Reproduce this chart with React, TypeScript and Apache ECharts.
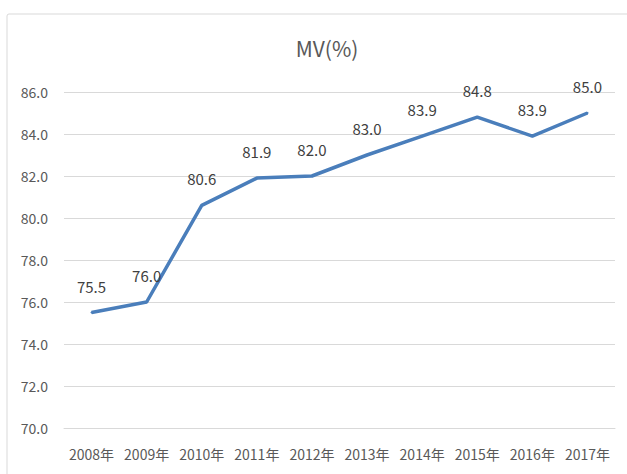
import React, { useEffect, useRef } from "react";
import * as echarts from "echarts";

const categories = ["2008年", "2009年", "2010年", "2011年", "2012年", "2013年", "2014年", "2015年", "2016年", "2017年"];
const mvValues = [75.5, 76.0, 80.6, 81.9, 82.0, 83.0, 83.9, 84.8, 83.9, 85.0];
const yMin = 70;
const yMax = 86;
const yInterval = 2;
const titleText = "MV(%)";

const FONT = "'Liberation Sans Narrow', 'Noto Sans CJK SC', sans-serif";

export default function App() {
  const ref = useRef<HTMLDivElement>(null);
  useEffect(() => {
    if (!ref.current) return;
    const chart = echarts.init(ref.current, undefined, { renderer: "svg" });
    chart.setOption({
      animation: false,
      backgroundColor: "#ffffff",
      title: {
        text: titleText,
        left: 322,
        top: 32,
        textAlign: "center",
        textStyle: { fontFamily: FONT, fontSize: 21, fontWeight: "normal", color: "#595959" },
      },
      graphic: [
        {
          type: "rect",
          shape: { x: 7, y: 14, width: 640, height: 480, r: 2 },
          style: { fill: "none", stroke: "#d9d9d9", lineWidth: 1 },
          silent: true,
          z: -1,
        },
      ],
      grid: { left: 64, right: 12, top: 92, bottom: 46, containLabel: false },
      xAxis: {
        type: "category",
        data: categories,
        boundaryGap: true,
        axisLine: { show: true, lineStyle: { color: "#d9d9d9" } },
        axisTick: { show: false },
        axisLabel: { fontFamily: FONT, fontSize: 14, color: "#595959", margin: 19, interval: 0 },
      },
      yAxis: {
        type: "value",
        min: yMin,
        max: yMax,
        interval: yInterval,
        axisLine: { show: false },
        axisTick: { show: false },
        axisLabel: {
          fontFamily: FONT,
          fontSize: 14,
          color: "#595959",
          margin: 16,
          formatter: (v: number) => v.toFixed(1),
        },
        splitLine: { lineStyle: { color: "#d9d9d9", width: 1 } },
      },
      series: [
        {
          type: "line",
          data: mvValues,
          symbol: "circle",
          symbolSize: 2,
          showSymbol: true,
          lineStyle: { color: "#4a7ebb", width: 3.5 },
          itemStyle: { color: "#4a7ebb" },
          label: {
            show: true,
            position: "top",
            distance: 18,
            fontFamily: FONT,
            fontSize: 15,
            color: "#404040",
            formatter: (p: any) => Number(p.value).toFixed(1),
          },
        },
      ],
    });
    return () => chart.dispose();
  }, []);
  return (
    <div
      ref={ref}
      style={{ position: "fixed", left: 0, top: 0, width: 627, height: 474 }}
    />
  );
}
